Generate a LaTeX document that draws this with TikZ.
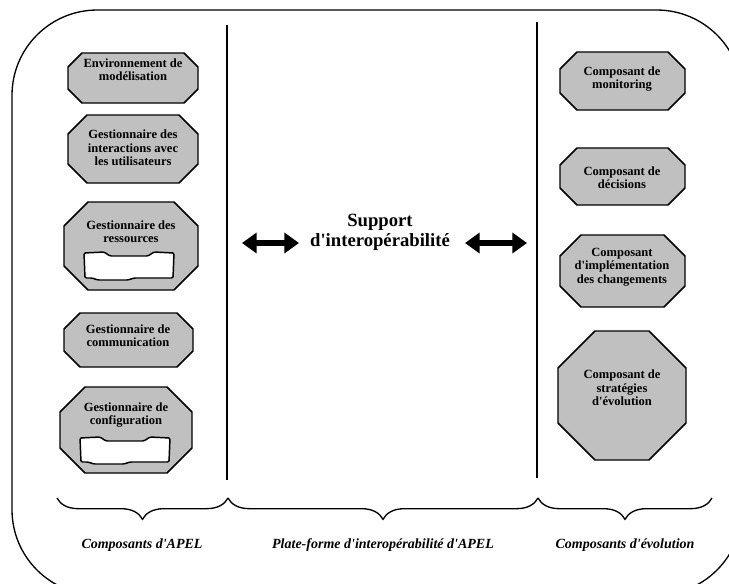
\documentclass[tikz,border=0pt]{standalone}
\usepackage{fontspec}
\setmainfont{Liberation Serif}
\usetikzlibrary{arrows.meta,decorations.pathreplacing}
\definecolor{boxgray}{RGB}{192,192,192}
\newcommand{\ap}{\textquotesingle}
\tikzset{
  octo/.style={fill=boxgray,draw=black,line width=1.1pt},
  tapebox/.style={fill=white,draw=black,line width=1.1pt,rounded corners=1pt},
  boxtext/.style={align=center,font=\bfseries\fontsize{9.4}{10}\selectfont},
  bigtext/.style={align=center,font=\bfseries\fontsize{14}{15}\selectfont},
  grouplabel/.style={font=\bfseries\itshape\fontsize{10.5}{12}\selectfont},
  dblarrow/.style={line width=3.8pt,{Triangle[width=15pt,length=11pt]}-{Triangle[width=15pt,length=11pt]}},
  bracedown/.style={line width=1pt,decorate,decoration={brace,mirror,amplitude=16pt}}
}
% octagon: left, top, right, bottom, cut
\newcommand{\octo}[5]{%
  \filldraw[octo] (#1+#5,#2) -- (#3-#5,#2) -- (#3,#2+#5) -- (#3,#4-#5)
    -- (#3-#5,#4) -- (#1+#5,#4) -- (#1,#4-#5) -- (#1,#2+#5) -- cycle;}
% white store inside a component: left, top, right, bottom
\newcommand{\tape}[4]{%
  \filldraw[tapebox] (#1,#2+1) -- (#1+20,#2) -- (#1+26,#2+4) -- (#3-26,#2+4)
    -- (#3-20,#2) -- (#3,#2+1) -- (#3-1,#4-2) -- (#3-40,#4-2) -- (#3-46,#4)
    -- (#1+14,#4) -- (#1+8,#4-2) -- (#1+1,#4-2) -- cycle;}
\begin{document}
\begin{tikzpicture}[x=0.75pt,y=-0.75pt]
  \useasboundingbox (0,0) rectangle (729,583);
  \clip (0,0) rectangle (729,583);
  % outer frame
  \draw[line width=1pt,rounded corners=64pt] (12,10) rectangle (742,595);
  % column separators
  \coordinate (lsep top) at (227,25);
  \coordinate (lsep bot) at (227,480);
  \coordinate (rsep top) at (537,22);
  \coordinate (rsep bot) at (537,478);
  \draw[line width=1.1pt] (lsep top) -- (lsep bot);
  \draw[line width=1.1pt] (rsep top) -- (rsep bot);

  % composants d'APEL
  \octo{68}{53}{198}{103}{14}
  \node[boxtext] (envmod) at (133,70) {Environnement de\\modélisation};
  \octo{68}{115}{198}{183}{19}
  \node[boxtext] (gestusers) at (133,148) {Gestionnaire des\\interactions avec\\les utilisateurs};
  \octo{64}{202}{198}{290}{24}
  \node[boxtext] (gestres) at (131,232) {Gestionnaire des\\ressources};
  \tape{84}{252}{174}{280}
  \octo{64}{313}{193}{367}{16}
  \node[boxtext] (gestcomm) at (128,336) {Gestionnaire de\\communication};
  \octo{60}{387}{192}{473}{25}
  \node[boxtext] (gestconf) at (126,415) {Gestionnaire de\\configuration};
  \tape{80}{437}{170}{464}

  % support d'interoperabilite
  \node[bigtext] (support) at (380,232) {Support\\d\ap interopérabilité};
  \coordinate (la start) at (242,243);
  \coordinate (la end) at (299,243);
  \coordinate (ra start) at (465,243);
  \coordinate (ra end) at (527,243);
  \draw[dblarrow] (la start) -- (la end);
  \draw[dblarrow] (ra start) -- (ra end);

  % composants d'evolution
  \octo{560}{52}{685}{110}{17}
  \node[boxtext] (monitor) at (622,79) {Composant de\\monitoring};
  \octo{560}{148}{685}{205}{17}
  \node[boxtext] (decision) at (622,178) {Composant de\\décisions};
  \octo{560}{235}{685}{307}{21}
  \node[boxtext] (implem) at (622,267) {Composant\\d\ap implémentation\\des changements};
  \octo{558}{331}{686}{460}{37}
  \node[boxtext] (strategy) at (622,388) {Composant de\\stratégies\\d\ap évolution};

  % braces and group labels
  \draw[bracedown] (57,498) -- (228,498);
  \draw[bracedown] (228,498) -- (538,498);
  \draw[bracedown] (538,498) -- (712,498);
  \node[grouplabel] (apel) at (142,545) {Composants d\ap APEL};
  \node[grouplabel] (platform) at (383,545) {Plate-forme d\ap interopérabilité d\ap APEL};
  \node[grouplabel] (evol) at (625,545) {Composants d\ap évolution};
\end{tikzpicture}
\end{document}
